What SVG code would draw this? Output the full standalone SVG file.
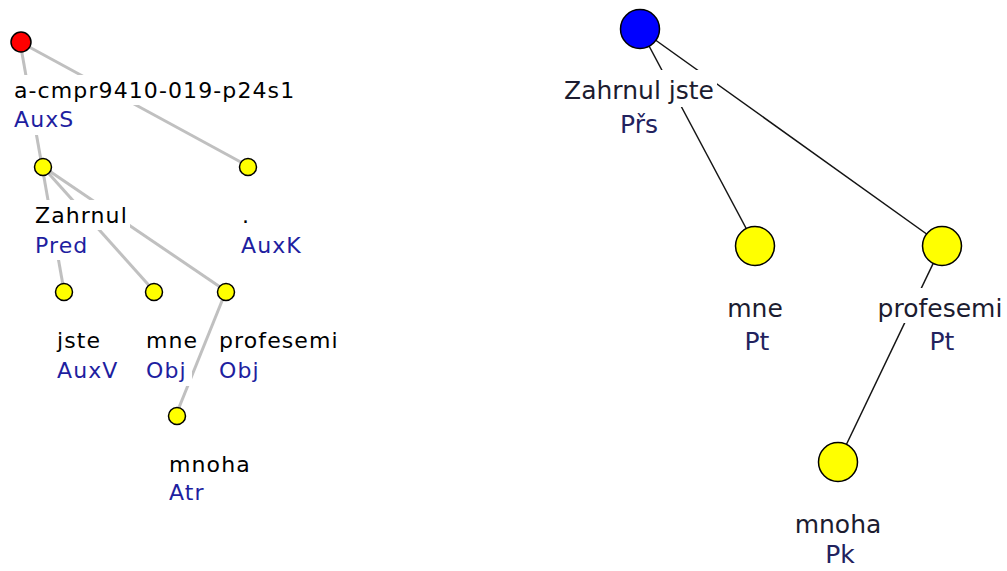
<svg xmlns="http://www.w3.org/2000/svg" width="1007" height="571" viewBox="0 0 1007 571">
  <style>
    .edgeA { stroke: #c0c0c0; stroke-width: 3; fill: none; }
    .edgeB { stroke: #141414; stroke-width: 1.5; fill: none; }
    .bg { fill: #ffffff; }
    .ta { font-family: "DejaVu Sans", Verdana, sans-serif; font-size: 22px; letter-spacing: 1.1px; }
    .tb { font-family: "DejaVu Sans", Verdana, sans-serif; font-size: 25px; text-anchor: middle; }
    .word { fill: #000000; }
    .func { fill: #1e1ea0; }
    .wordB { fill: #1c1c30; }
    .funcB { fill: #22225e; }
    .nd { stroke: #000000; stroke-width: 1.5; }
  </style>
  <rect width="1007" height="571" fill="#ffffff"/>

  <!-- analytical tree: connectors -->
  <g id="edges-a">
    <line class="edgeA" x1="20" y1="42" x2="42" y2="166"/>
    <line class="edgeA" x1="20" y1="42" x2="248" y2="166"/>
    <line class="edgeA" x1="42" y1="166" x2="64" y2="291"/>
    <line class="edgeA" x1="42" y1="166" x2="154" y2="291"/>
    <line class="edgeA" x1="42" y1="166" x2="226" y2="291"/>
    <line class="edgeA" x1="226" y1="291" x2="176" y2="415"/>
  </g>

  <!-- tectogrammatical tree: connectors -->
  <g id="edges-b">
    <line class="edgeB" x1="640" y1="29" x2="755" y2="245"/>
    <line class="edgeB" x1="640" y1="29" x2="942" y2="245"/>
    <line class="edgeB" x1="942" y1="245" x2="838" y2="462"/>
  </g>

  <!-- analytical tree: nodes -->
  <g id="a-root">
    <rect class="bg" x="13" y="75" width="287" height="30"/>
    <rect class="bg" x="13" y="105" width="65" height="30"/>
    <circle class="nd" cx="21" cy="42" r="10" fill="#ff0000"/>
    <text class="ta word" x="14" y="98">a-cmpr9410-019-p24s1</text>
    <text class="ta func" x="14" y="127">AuxS</text>
  </g>
  <g id="a-zahrnul">
    <rect class="bg" x="34" y="200" width="96" height="30"/>
    <rect class="bg" x="34" y="230" width="58" height="30"/>
    <circle class="nd" cx="43" cy="167" r="8.5" fill="#ffff00"/>
    <text class="ta word" x="35" y="223">Zahrnul</text>
    <text class="ta func" x="35" y="253">Pred</text>
  </g>
  <g id="a-dot">
    <rect class="bg" x="240" y="200" width="68" height="60"/>
    <circle class="nd" cx="248" cy="167" r="8.5" fill="#ffff00"/>
    <text class="ta word" x="242" y="223">.</text>
    <text class="ta func" x="241" y="253">AuxK</text>
  </g>
  <g id="a-jste">
    <rect class="bg" x="55" y="325" width="68" height="60"/>
    <circle class="nd" cx="64" cy="292" r="8.5" fill="#ffff00"/>
    <text class="ta word" x="57" y="348">jste</text>
    <text class="ta func" x="57" y="378">AuxV</text>
  </g>
  <g id="a-mne">
    <rect class="bg" x="145" y="325" width="48" height="30"/>
    <rect class="bg" x="145" y="355" width="47" height="31"/>
    <circle class="nd" cx="154" cy="292" r="8.5" fill="#ffff00"/>
    <text class="ta word" x="146" y="348">mne</text>
    <text class="ta func" x="146" y="378">Obj</text>
  </g>
  <g id="a-profesemi">
    <rect class="bg" x="218" y="325" width="116" height="30"/>
    <rect class="bg" x="218" y="355" width="46" height="30"/>
    <circle class="nd" cx="226" cy="292" r="8.5" fill="#ffff00"/>
    <text class="ta word" x="219" y="348">profesemi</text>
    <text class="ta func" x="219" y="378">Obj</text>
  </g>
  <g id="a-mnoha">
    <rect class="bg" x="168" y="449" width="82" height="60"/>
    <circle class="nd" cx="177" cy="416" r="8.5" fill="#ffff00"/>
    <text class="ta word" x="169" y="472">mnoha</text>
    <text class="ta func" x="169" y="500">Atr</text>
  </g>

  <!-- tectogrammatical tree: nodes -->
  <g id="t-root">
    <rect class="bg" x="562" y="70" width="155" height="37"/>
    <rect class="bg" x="617" y="107" width="44" height="30"/>
    <circle class="nd" cx="640" cy="29" r="19.5" fill="#0000ff"/>
    <text class="tb wordB" x="639" y="99">Zahrnul jste</text>
    <text class="tb funcB" x="639" y="133">Přs</text>
  </g>
  <g id="t-mne">
    <rect class="bg" x="726" y="288" width="58" height="66"/>
    <circle class="nd" cx="755" cy="246" r="19.5" fill="#ffff00"/>
    <text class="tb wordB" x="755" y="317">mne</text>
    <text class="tb funcB" x="757" y="350">Pt</text>
  </g>
  <g id="t-profesemi">
    <rect class="bg" x="876" y="288" width="130" height="35"/>
    <rect class="bg" x="925" y="323" width="35" height="31"/>
    <circle class="nd" cx="942" cy="246" r="19.5" fill="#ffff00"/>
    <text class="tb wordB" x="940" y="317">profesemi</text>
    <text class="tb funcB" x="942" y="350">Pt</text>
  </g>
  <g id="t-mnoha">
    <rect class="bg" x="795" y="504" width="88" height="66"/>
    <circle class="nd" cx="838" cy="462" r="19.5" fill="#ffff00"/>
    <text class="tb wordB" x="838" y="533">mnoha</text>
    <text class="tb funcB" x="840" y="563">Pk</text>
  </g>
</svg>
